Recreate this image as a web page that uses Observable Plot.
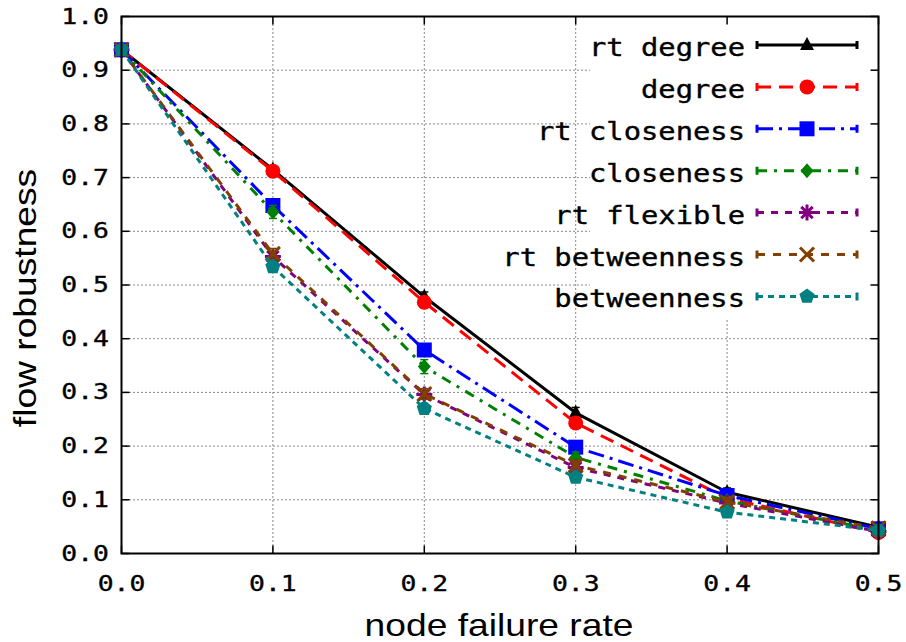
<!DOCTYPE html>
<html><head><meta charset="utf-8">
<script src="https://cdn.jsdelivr.net/npm/d3@7"></script>
<script src="https://cdn.jsdelivr.net/npm/@observablehq/plot@0.6"></script>
<style>body{margin:0;background:#fff}</style>
</head><body><div id="chart"></div>
<script>
// ---- data ----
const failureRate = [0.0, 0.1, 0.2, 0.3, 0.4, 0.5];
const seriesNames = ["rt degree", "degree", "rt closeness", "closeness", "rt flexible", "rt betweenness", "betweenness"];
const rtDegree      = [0.938, 0.715, 0.478, 0.262, 0.114, 0.049];
const degree        = [0.938, 0.712, 0.468, 0.243, 0.103, 0.039];
const rtCloseness   = [0.938, 0.648, 0.379, 0.198, 0.108, 0.046];
const closeness     = [0.938, 0.636, 0.348, 0.179, 0.098, 0.043];
const rtFlexible    = [0.938, 0.553, 0.296, 0.160, 0.094, 0.041];
const rtBetweenness = [0.938, 0.558, 0.297, 0.164, 0.096, 0.047];
const betweenness   = [0.938, 0.534, 0.270, 0.142, 0.077, 0.043];
const rtDegreeErr      = [0.003, 0.006, 0.009, 0.010, 0.008, 0.005];
const degreeErr        = [0.003, 0.008, 0.010, 0.009, 0.008, 0.006];
const rtClosenessErr   = [0.003, 0.008, 0.010, 0.009, 0.008, 0.006];
const closenessErr     = [0.003, 0.012, 0.013, 0.010, 0.008, 0.006];
const rtFlexibleErr    = [0.003, 0.008, 0.008, 0.008, 0.008, 0.006];
const rtBetweennessErr = [0.003, 0.010, 0.010, 0.009, 0.008, 0.006];
const betweennessErr   = [0.003, 0.010, 0.010, 0.008, 0.008, 0.006];
const xTicks = [0.0, 0.1, 0.2, 0.3, 0.4, 0.5];
const yTicks = [0.0, 0.1, 0.2, 0.3, 0.4, 0.5, 0.6, 0.7, 0.8, 0.9, 1.0];

const seriesValues = [rtDegree, degree, rtCloseness, closeness, rtFlexible, rtBetweenness, betweenness];
const seriesErrors = [rtDegreeErr, degreeErr, rtClosenessErr, closenessErr, rtFlexibleErr, rtBetweennessErr, betweennessErr];

// ---- styles ----
const colors = ["#000000", "#ff0000", "#0000ff", "#008000", "#800080", "#804000", "#008080"];
const dashes = [null, "14,8", "16,6,3,6", "10,7,3,7", "7,7", "8,8", "6,5"];

const sym = {
  triangle: {draw(c){c.moveTo(0,-8);c.lineTo(7,5);c.lineTo(-7,5);c.closePath();}},
  circle: {draw(c){c.moveTo(7.5,0);c.arc(0,0,7.5,0,2*Math.PI);c.closePath();}},
  square: {draw(c){c.rect(-7.5,-7.5,15,15);}},
  diamond: {draw(c){c.moveTo(0,-7.5);c.lineTo(6.5,0);c.lineTo(0,7.5);c.lineTo(-6.5,0);c.closePath();}},
  asterisk: {draw(c){const r=8, d=5.7;c.moveTo(0,-r);c.lineTo(0,r);c.moveTo(-r,0);c.lineTo(r,0);c.moveTo(-d,-d);c.lineTo(d,d);c.moveTo(-d,d);c.lineTo(d,-d);}},
  times: {draw(c){const d=7;c.moveTo(-d,-d);c.lineTo(d,d);c.moveTo(-d,d);c.lineTo(d,-d);}},
  pentagon: {draw(c){const r=8;for(let k=0;k<5;k++){const a=-Math.PI/2+k*2*Math.PI/5;const px=r*Math.cos(a),py=r*Math.sin(a);k?c.lineTo(px,py):c.moveTo(px,py);}c.closePath();}}
};
const markers = [
  {s: sym.triangle, filled: true}, {s: sym.circle, filled: true}, {s: sym.square, filled: true},
  {s: sym.diamond, filled: true}, {s: sym.asterisk, filled: false}, {s: sym.times, filled: false},
  {s: sym.pentagon, filled: true}
];
const tickUp = {draw(c){c.moveTo(0,0);c.lineTo(0,-8);}};
const tickDown = {draw(c){c.moveTo(0,0);c.lineTo(0,8);}};
const tickRight = {draw(c){c.moveTo(0,0);c.lineTo(8,0);}};
const tickLeft = {draw(c){c.moveTo(0,0);c.lineTo(-8,0);}};
const cap = {draw(c){c.moveTo(-4,0);c.lineTo(4,0);}};

const rows = seriesNames.map((name, i) => failureRate.map((x, j) => ({
  series: name, x, y: seriesValues[i][j], err: seriesErrors[i][j]
})));

const marks = [
  Plot.gridY(yTicks.slice(1, -1), {stroke: "#888", strokeOpacity: 1, strokeWidth: 1, strokeDasharray: "2,2"}),
  Plot.gridX(xTicks.slice(1, -1), {stroke: "#888", strokeOpacity: 1, strokeWidth: 1, strokeDasharray: "2,2"})
];
rows.forEach((data, i) => {
  marks.push(Plot.ruleX(data, {x: "x", y1: d => d.y - d.err, y2: d => d.y + d.err, stroke: colors[i], strokeWidth: 1.5}));
  marks.push(Plot.dot(data, {x: "x", y: d => d.y - d.err, symbol: cap, fill: "none", stroke: colors[i], strokeWidth: 1.5}));
  marks.push(Plot.dot(data, {x: "x", y: d => d.y + d.err, symbol: cap, fill: "none", stroke: colors[i], strokeWidth: 1.5}));
  marks.push(Plot.line(data, {x: "x", y: "y", stroke: colors[i], strokeWidth: 3, strokeDasharray: dashes[i] ?? undefined, strokeLinecap: "butt", strokeLinejoin: "miter"}));
  const m = markers[i];
  marks.push(Plot.dot(data, m.filled
    ? {x: "x", y: "y", symbol: m.s, fill: colors[i], stroke: "none"}
    : {x: "x", y: "y", symbol: m.s, fill: "none", stroke: colors[i], strokeWidth: 3}));
});
marks.push(
  Plot.dot(xTicks, {x: d => d, frameAnchor: "bottom", symbol: tickUp, fill: "none", stroke: "black", strokeWidth: 1.5}),
  Plot.dot(xTicks, {x: d => d, frameAnchor: "top", symbol: tickDown, fill: "none", stroke: "black", strokeWidth: 1.5}),
  Plot.dot(yTicks, {y: d => d, frameAnchor: "left", symbol: tickRight, fill: "none", stroke: "black", strokeWidth: 1.5}),
  Plot.dot(yTicks, {y: d => d, frameAnchor: "right", symbol: tickLeft, fill: "none", stroke: "black", strokeWidth: 1.5}),
  Plot.axisX({ticks: xTicks, tickFormat: d => d.toFixed(1), tickSize: 0, tickPadding: 22, fontSize: 22, fontFamily: "DejaVu Sans Mono", label: null}),
  Plot.axisY({ticks: yTicks, tickFormat: d => d.toFixed(1), tickSize: 0, tickPadding: 12.5, fontSize: 22, fontFamily: "DejaVu Sans Mono", label: null}),
  Plot.frame({stroke: "black", strokeWidth: 2})
);

const chart = Plot.plot({
  width: 906, height: 642,
  marginLeft: 121, marginRight: 28, marginTop: 16, marginBottom: 89,
  x: {domain: [0, 0.5]},
  y: {domain: [0, 1]},
  style: {background: "white", color: "black", fontFamily: "DejaVu Sans Mono"},
  marks
});
document.getElementById("chart").appendChild(chart);

const svg = d3.select(chart);
// widen tick label text like the reference font
svg.selectAll('[aria-label="x-axis tick label"] text, [aria-label="y-axis tick label"] text').each(function () {
  const t = d3.select(this);
  t.attr("transform", (t.attr("transform") || "") + " scale(1.2,1)")
   .attr("stroke", "black").attr("stroke-width", 0.35);
});

// legend box (opaque, over grid)
const gridNode = svg.select('[aria-label="x-grid"]').node();
const legend = document.createElementNS("http://www.w3.org/2000/svg", "g");
gridNode.parentNode.insertBefore(legend, gridNode.nextSibling);
const lg = d3.select(legend);
lg.append("rect").attr("x", 590).attr("y", 17).attr("width", 287).attr("height", 302).attr("fill", "white");
seriesNames.forEach((name, i) => {
  const ly = 45 + i * 41.9;
  lg.append("text").text(name)
    .attr("transform", `translate(745,${ly + 11}) scale(1.2,1)`)
    .attr("text-anchor", "end").attr("font-family", "DejaVu Sans Mono").attr("font-size", 24)
    .attr("fill", "black").attr("stroke", "black").attr("stroke-width", 0.35);
  lg.append("line").attr("x1", 757).attr("x2", 857).attr("y1", ly).attr("y2", ly)
    .attr("stroke", colors[i]).attr("stroke-width", 3).attr("stroke-dasharray", dashes[i]);
  lg.append("path").attr("d", `M757,${ly - 4}V${ly + 4}M857,${ly - 4}V${ly + 4}`).attr("stroke", colors[i]).attr("stroke-width", 3);
  const m = markers[i];
  lg.append("path").attr("d", d3.symbol(m.s)()).attr("transform", `translate(807,${ly})`)
    .attr("fill", m.filled ? colors[i] : "none").attr("stroke", m.filled ? "none" : colors[i]).attr("stroke-width", 3);
});

// axis titles
svg.append("text").text("node failure rate")
  .attr("transform", "translate(499,636) scale(1.2,1)")
  .attr("text-anchor", "middle").attr("font-family", "Liberation Sans, Arial, sans-serif").attr("font-size", 31).attr("fill", "black");
svg.append("text").text("flow robustness")
  .attr("transform", "translate(36,298) rotate(-90) scale(1.2,1)")
  .attr("text-anchor", "middle").attr("font-family", "Liberation Sans, Arial, sans-serif").attr("font-size", 31).attr("fill", "black");
</script>
</body></html>
